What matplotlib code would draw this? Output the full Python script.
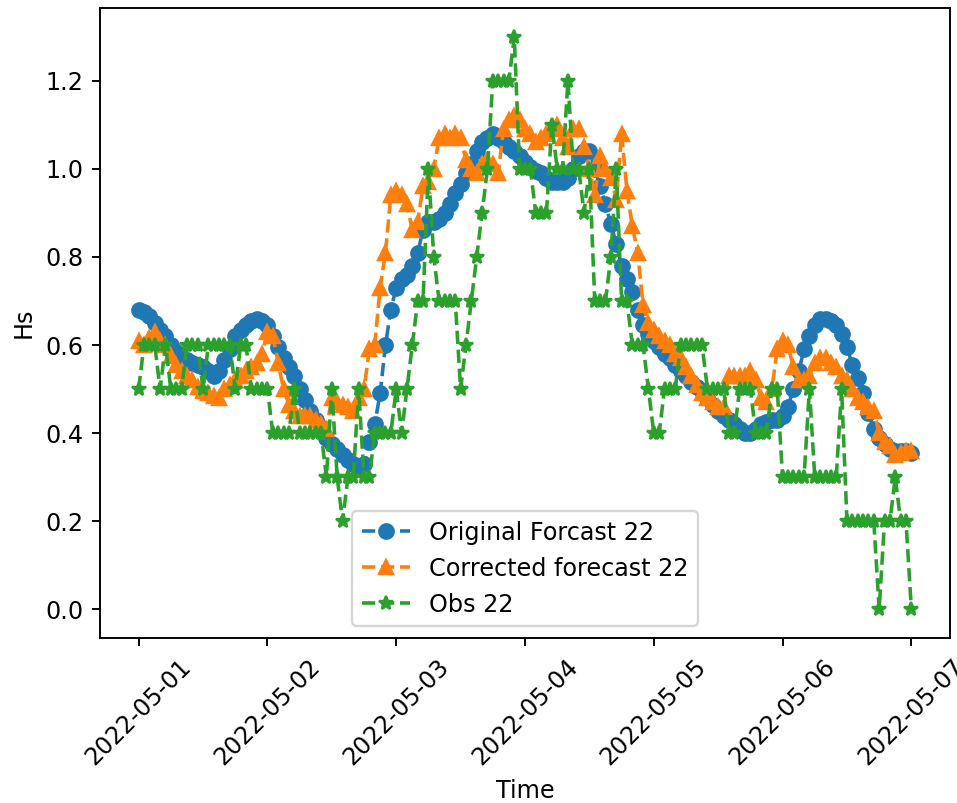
import matplotlib
matplotlib.use("Agg")
import matplotlib.pyplot as plt
import pandas as pd
import numpy as np

times = pd.date_range("2022-05-01 00:00", "2022-05-07 00:00", freq="h")

original_forecast = [
    0.68, 0.675, 0.665, 0.65, 0.635, 0.62, 0.60, 0.585, 0.57, 0.565,
    0.56, 0.555, 0.55, 0.54, 0.53, 0.54, 0.565, 0.59, 0.62, 0.635,
    0.645, 0.655, 0.66, 0.655, 0.645, 0.62, 0.595, 0.57, 0.55, 0.53,
    0.50, 0.475, 0.45, 0.43, 0.41, 0.39, 0.375, 0.365, 0.35, 0.34,
    0.33, 0.325, 0.33, 0.38, 0.42, 0.49, 0.60, 0.68, 0.73, 0.75,
    0.76, 0.78, 0.81, 0.86, 0.88, 0.88, 0.885, 0.90, 0.92, 0.945,
    0.965, 0.99, 1.01, 1.04, 1.06, 1.07, 1.08, 1.07, 1.06, 1.05,
    1.04, 1.03, 1.015, 1.005, 0.995, 0.99, 0.98, 0.97, 0.97, 0.97,
    0.98, 1.00, 1.03, 1.04, 1.04, 1.00, 0.96, 0.92, 0.875, 0.83,
    0.78, 0.75, 0.72, 0.68, 0.645, 0.625, 0.61, 0.595, 0.58, 0.57,
    0.555, 0.54, 0.53, 0.515, 0.505, 0.495, 0.48, 0.465, 0.45, 0.44,
    0.43, 0.42, 0.41, 0.40, 0.40, 0.41, 0.42, 0.425, 0.43, 0.43,
    0.44, 0.46, 0.50, 0.54, 0.59, 0.62, 0.645, 0.66, 0.66, 0.655,
    0.645, 0.625, 0.595, 0.555, 0.525, 0.49, 0.445, 0.41, 0.39, 0.375,
    0.365, 0.36, 0.36, 0.36, 0.355,
]

corrected_forecast = [
    0.61, 0.60, 0.615, 0.63, 0.61, 0.60, 0.575, 0.555, 0.54, 0.53,
    0.52, 0.505, 0.495, 0.49, 0.485, 0.48, 0.50, 0.51, 0.52, 0.53,
    0.54, 0.55, 0.56, 0.58, 0.63, 0.62, 0.56, 0.50, 0.465, 0.45,
    0.44, 0.44, 0.44, 0.43, 0.42, 0.41, 0.48, 0.47, 0.465, 0.46,
    0.45, 0.48, 0.50, 0.59, 0.60, 0.73, 0.81, 0.94, 0.95, 0.94,
    0.92, 0.86, 0.88, 0.96, 0.97, 1.00, 1.07, 1.08, 1.07, 1.08,
    1.07, 1.02, 1.00, 0.99, 1.01, 1.02, 1.01, 0.99, 1.09, 1.11,
    1.12, 1.11, 1.09, 1.08, 1.06, 1.07, 1.08, 1.09, 1.10, 1.07,
    1.05, 1.09, 1.09, 1.05, 1.00, 0.94, 1.03, 1.00, 0.98, 0.93,
    1.08, 0.95, 0.87, 0.81, 0.69, 0.65, 0.635, 0.62, 0.61, 0.60,
    0.58, 0.57, 0.55, 0.53, 0.51, 0.49, 0.48, 0.47, 0.46, 0.46,
    0.53, 0.53, 0.53, 0.53, 0.54, 0.52, 0.48, 0.47, 0.50, 0.59,
    0.61, 0.60, 0.55, 0.52, 0.52, 0.53, 0.56, 0.57, 0.57, 0.56,
    0.55, 0.53, 0.52, 0.50, 0.48, 0.47, 0.46, 0.45, 0.40, 0.38,
    0.37, 0.35, 0.355, 0.36, 0.36,
]

observations = [
    0.5, 0.6, 0.6, 0.6, 0.5, 0.6, 0.5, 0.5, 0.5, 0.6,
    0.6, 0.6, 0.5, 0.6, 0.6, 0.6, 0.6, 0.6, 0.5, 0.6,
    0.6, 0.5, 0.5, 0.5, 0.5, 0.4, 0.4, 0.4, 0.4, 0.5,
    0.4, 0.4, 0.4, 0.4, 0.4, 0.3, 0.5, 0.3, 0.2, 0.3,
    0.3, 0.5, 0.3, 0.3, 0.4, 0.4, 0.4, 0.4, 0.5, 0.4,
    0.5, 0.6, 0.7, 0.7, 1.0, 0.8, 0.7, 0.7, 0.7, 0.7,
    0.5, 0.6, 0.7, 0.8, 0.9, 1.0, 1.2, 1.2, 1.2, 1.2,
    1.3, 1.0, 1.0, 1.0, 0.9, 0.9, 0.9, 1.1, 1.0, 1.0,
    1.2, 1.0, 1.0, 0.9, 1.0, 0.7, 0.7, 0.7, 0.8, 1.0,
    0.7, 0.7, 0.6, 0.6, 0.6, 0.5, 0.4, 0.4, 0.5, 0.5,
    0.5, 0.6, 0.6, 0.6, 0.6, 0.6, 0.5, 0.5, 0.5, 0.5,
    0.4, 0.4, 0.5, 0.5, 0.5, 0.4, 0.4, 0.4, 0.5, 0.5,
    0.3, 0.3, 0.3, 0.3, 0.3, 0.5, 0.3, 0.3, 0.3, 0.3,
    0.3, 0.5, 0.2, 0.2, 0.2, 0.2, 0.2, 0.2, 0.0, 0.2,
    0.2, 0.3, 0.2, 0.2, 0.0,
]

labels = ["Original Forcast 22", "Corrected forecast 22", "Obs 22"]

DPI = 172
fig = plt.figure(figsize=(957 / DPI, 803 / DPI), dpi=DPI)
ax = fig.add_axes([100 / 957, 1 - 638 / 803, 850 / 957, 630 / 803])
ax.plot(times, original_forecast, "o--", label=labels[0])
ax.plot(times, corrected_forecast, "^--", label=labels[1])
ax.plot(times, observations, "*--", label=labels[2])
ax.set_xlabel("Time")
ax.set_ylabel("Hs")
plt.setp(ax.get_xticklabels(), rotation=45)
ax.legend(loc="lower center")
fig.savefig("out.png", dpi=DPI)
